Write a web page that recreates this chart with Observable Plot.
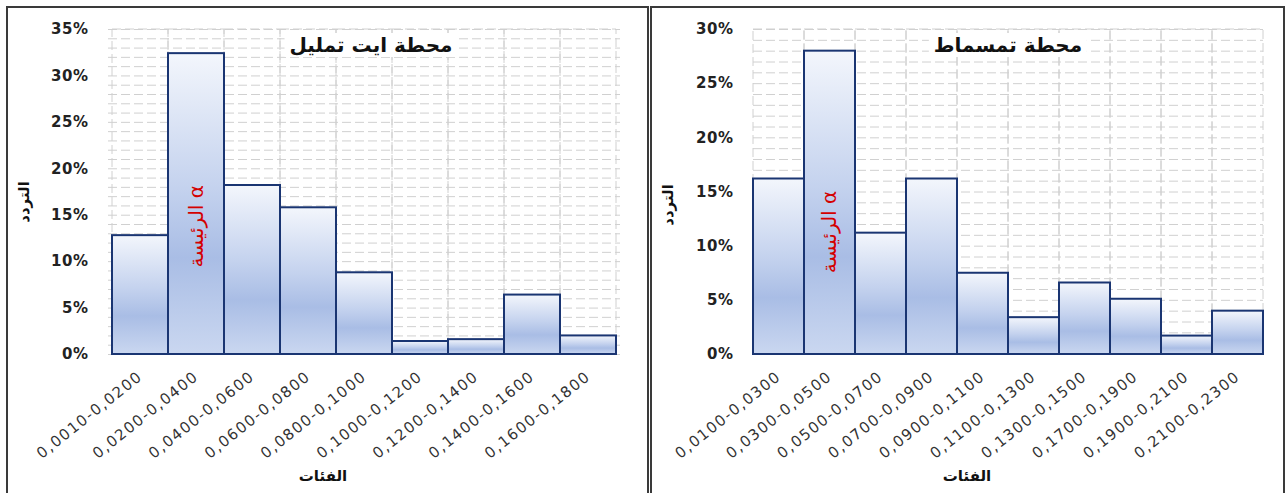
<!DOCTYPE html>
<html><head><meta charset="utf-8">
<script src="https://cdn.jsdelivr.net/npm/d3@7"></script>
<script src="https://cdn.jsdelivr.net/npm/@observablehq/plot@0.6"></script>
<style>
body{margin:0;width:1288px;height:493px;overflow:hidden;background:#fff;position:relative;font-family:"DejaVu Sans",sans-serif;}
.panel{position:absolute;top:6px;height:520px;border:2px solid #3a3a3a;background:#fff;overflow:hidden}
.panel svg{position:absolute;left:0;top:0}
.lbl{position:absolute;white-space:nowrap;transform:translate(-50%,-50%);color:#111;font-weight:bold}
.title{font-size:20px;background:#fff;padding:0 5px}
.ylab{font-size:15px;transform:translate(-50%,-50%) rotate(-90deg)}
.xlab{font-size:15px}
svg g[aria-label="y-axis tick label"] text{font-weight:bold;font-size:15px;letter-spacing:0.5px}
svg g[aria-label="x-axis tick label"] text{font-size:15px;letter-spacing:1.5px;fill:#333}
</style></head>
<body>
<script>
// Left panel data (محطة ايت تمليل)
const classesA = ["0,0010-0,0200","0,0200-0,0400","0,0400-0,0600","0,0600-0,0800","0,0800-0,1000","0,1000-0,1200","0,1200-0,1400","0,1400-0,1600","0,1600-0,1800"];
const freqA = [0.128, 0.324, 0.182, 0.158, 0.088, 0.014, 0.016, 0.064, 0.020];
const yTicksA = [0, 0.05, 0.10, 0.15, 0.20, 0.25, 0.30, 0.35];
// Right panel data (محطة تمسماط)
const classesB = ["0,0100-0,0300","0,0300-0,0500","0,0500-0,0700","0,0700-0,0900","0,0900-0,1100","0,1100-0,1300","0,1300-0,1500","0,1700-0,1900","0,1900-0,2100","0,2100-0,2300"];
const freqB = [0.162, 0.280, 0.112, 0.162, 0.075, 0.034, 0.066, 0.051, 0.017, 0.040];
const yTicksB = [0, 0.05, 0.10, 0.15, 0.20, 0.25, 0.30];
// Texts
const titleA = "محطة ايت تمليل";
const titleB = "محطة تمسماط";
const yTitle = "التردد";
const xTitle = "الفئات";
const note = "الرئيسة α";
const noteYA = 0.138, noteYB = 0.113;

function chart(classes, freq, yTicks, width, ml, mr, gid, noteY) {
  const yMax = yTicks[yTicks.length - 1];
  const data = classes.map((c, i) => ({c, f: freq[i]}));
  const grid = d3.range(0, Math.round(yMax * 100) + 1).map(k => k / 100);
  const svg = Plot.plot({
    width, height: 485, marginLeft: ml, marginRight: mr, marginTop: 21, marginBottom: 139,
    style: {fontFamily: "DejaVu Sans", fontSize: "14px", color: "#222", background: "transparent", overflow: "visible"},
    x: {domain: classes, padding: 0, label: null, tickRotate: -38.5, tickSize: 0, tickPadding: 20},
    y: {domain: [0, yMax], label: null, ticks: yTicks, tickFormat: d3.format(".0%"), tickSize: 0, tickPadding: 20},
    marks: [
      Plot.gridY(grid, {stroke: "#d0d0d0", strokeOpacity: 1, strokeDasharray: "9,4"}),
      Plot.barY(classes, {x: d => d, y1: 0, y2: yMax, fill: "none", stroke: "#d0d0d0", strokeDasharray: "9,4"}),
      Plot.barY(data, {x: "c", y: "f", fill: `url(#${gid})`, stroke: "#1a3572", strokeWidth: 2}),
      Plot.text([note], {x: () => classes[1], y: () => noteY, text: d => d, rotate: -90, fill: "#d40000", fontSize: 20})
    ]
  });
  const ns = "http://www.w3.org/2000/svg";
  const defs = document.createElementNS(ns, "defs");
  defs.innerHTML = `<linearGradient id="${gid}" x1="0" y1="0" x2="0" y2="1">
    <stop offset="0" stop-color="#f3f6fc"/><stop offset="0.45" stop-color="#c4d2ee"/>
    <stop offset="0.68" stop-color="#a9bde5"/><stop offset="1" stop-color="#cad7f0"/></linearGradient>`;
  svg.insertBefore(defs, svg.firstChild);
  return svg;
}

function panel(left, width, svg) {
  const d = document.createElement("div");
  d.className = "panel";
  d.style.left = left + "px";
  d.style.width = width + "px";
  d.appendChild(svg);
  document.body.appendChild(d);
}
function label(text, cls, x, y) {
  const d = document.createElement("div");
  d.className = "lbl " + cls;
  d.textContent = text;
  d.style.left = x + "px";
  d.style.top = y + "px";
  document.body.appendChild(d);
}

panel(6, 639, chart(classesA, freqA, yTicksA, 639, 100, 27, "gA", noteYA));
panel(650, 631, chart(classesB, freqB, yTicksB, 631, 101, 20, "gB", noteYB));

label(titleA, "title", 371, 45);
label(titleB, "title", 1008, 45);
label(yTitle, "ylab", 24, 202);
label(yTitle, "ylab", 668, 205);
label(xTitle, "xlab", 323, 476);
label(xTitle, "xlab", 967, 476);
</script>
</body></html>
